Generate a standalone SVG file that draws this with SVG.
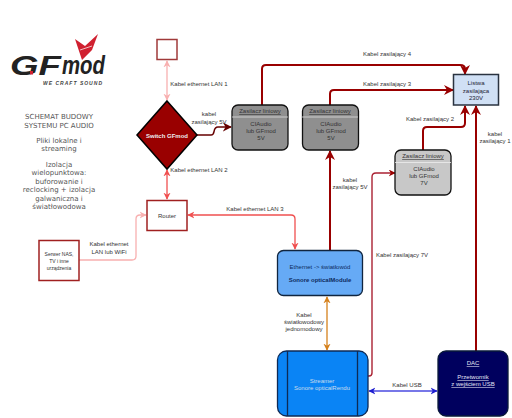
<svg xmlns="http://www.w3.org/2000/svg" width="512" height="418" viewBox="0 0 512 418">
<style>
text{font-family:"Liberation Sans",Arial,sans-serif;font-size:6px;fill:#333;text-anchor:middle}
.m{font-family:"DejaVu Sans",sans-serif;font-size:7px;fill:#555}
.c{fill:none;stroke-linejoin:round}
.pw{stroke:#990000;stroke-width:2}
.lan{stroke:#f05050;stroke-width:1.3}
.lt{stroke:#f8b0b0;stroke-width:1.3}
.u{text-decoration:underline}
.w{fill:#e4e4f4}
</style>
<defs>
<marker id="ap" viewBox="0 0 10 10" refX="9" refY="5" markerWidth="5" markerHeight="5" orient="auto-start-reverse" markerUnits="strokeWidth"><path d="M0 0L10 5L0 10L3 5Z" fill="#990000"/></marker>
<marker id="al" viewBox="0 0 10 10" refX="9" refY="5" markerWidth="5.5" markerHeight="5.5" orient="auto-start-reverse" markerUnits="strokeWidth"><path d="M0 0L10 5L0 10L3 5Z" fill="#f05050"/></marker>
<marker id="at" viewBox="0 0 10 10" refX="9" refY="5" markerWidth="5.5" markerHeight="5.5" orient="auto-start-reverse" markerUnits="strokeWidth"><path d="M0 0L10 5L0 10L3 5Z" fill="#f8b0b0"/></marker>
<marker id="ad" viewBox="0 0 10 10" refX="9" refY="5" markerWidth="6" markerHeight="6" orient="auto-start-reverse" markerUnits="strokeWidth"><path d="M0 0L10 5L0 10L3 5Z" fill="#660000"/></marker>
<marker id="ao" viewBox="0 0 10 10" refX="9" refY="5" markerWidth="5.5" markerHeight="5.5" orient="auto-start-reverse" markerUnits="strokeWidth"><path d="M0 0L10 5L0 10L3 5Z" fill="#d5811d"/></marker>
<marker id="ab" viewBox="0 0 10 10" refX="9" refY="5" markerWidth="5.5" markerHeight="5.5" orient="auto-start-reverse" markerUnits="strokeWidth"><path d="M0 0L10 5L0 10L3 5Z" fill="#1f1fd0"/></marker>
</defs>

<g id="logo">
<polygon points="75,39 85,46 98,34 92,50 82,60 78,48" fill="#d02030"/>
<line x1="80" y1="50" x2="92" y2="46" stroke="#fff" stroke-width="0.700"/>
<text x="10" y="75" style="font-size:27px;font-weight:bold;font-style:italic;text-anchor:start;fill:#222" textLength="51" lengthAdjust="spacingAndGlyphs">GF</text>
<rect x="30" y="71" width="3" height="3.500" fill="#d02030"/>
<text x="62" y="74" style="font-size:25px;font-weight:bold;font-style:italic;text-anchor:start;fill:#222" textLength="43" lengthAdjust="spacingAndGlyphs">mod</text>
<text x="43" y="84.500" style="font-size:5px;font-weight:bold;font-style:italic;text-anchor:start;fill:#444" textLength="59">WE CRAFT SOUND</text>
</g>

<g id="opis">
<text class="m" x="59" y="119">SCHEMAT BUDOWY</text>
<text class="m" x="59" y="128">SYSTEMU PC AUDIO</text>
<text class="m" x="59" y="143">Pliki lokalne i</text>
<text class="m" x="59" y="151">streaming</text>
<text class="m" x="59" y="167">Izolacja</text>
<text class="m" x="59" y="175">wielopunktowa:</text>
<text class="m" x="59" y="184">buforowanie i</text>
<text class="m" x="59" y="192">reclocking + izolacja</text>
<text class="m" x="59" y="201">galwaniczna i</text>
<text class="m" x="59" y="209">światłowodowa</text>
</g>

<g id="connectors">
<path class="c lt" d="M167 61V100" marker-start="url(#at)" marker-end="url(#at)"/>
<path class="c lan" d="M167 170V199" marker-start="url(#al)" marker-end="url(#al)"/>
<path class="c lan" d="M188 215H291Q295 215 295 219V249" marker-start="url(#al)" marker-end="url(#al)"/>
<path class="c lt" d="M79 260H132Q136 260 136 256V219Q136 215 140 215H146" marker-end="url(#at)"/>
<path class="c" d="M197 135H211C216 135 212 127 218 127H231" stroke="#660000" stroke-width="1.500" marker-end="url(#ad)"/>
<path class="c pw" d="M262 105V69Q262 65 266 65H460Q465 65 465 69V74" marker-end="url(#ap)"/>
<path class="c pw" d="M330 105V94Q330 90 334 90H453" marker-end="url(#ap)"/>
<path class="c pw" d="M423 150V131Q423 127 427 127H461Q465 127 465 123V106" marker-end="url(#ap)"/>
<path class="c pw" d="M476 351V106" marker-end="url(#ap)"/>
<path class="c pw" d="M330 250V151" marker-end="url(#ap)"/>
<path class="c" d="M368 376H369Q372 376 372 373V177Q372 173 376 173H395" stroke="#aa2233" stroke-width="1.400" marker-end="url(#ap)"/>
<path class="c" d="M327 297V350" stroke="#d5811d" stroke-width="1.300" marker-start="url(#ao)" marker-end="url(#ao)"/>
<path class="c" d="M369 391H437" stroke="#4a4ae0" stroke-width="1.300" marker-start="url(#ab)" marker-end="url(#ab)"/>
</g>

<g id="labels">
<text x="199" y="86">Kabel ethernet LAN 1</text>
<text x="199" y="172">Kabel ethernet LAN 2</text>
<text x="209" y="116">kabel</text>
<text x="209" y="124">zasilający 5V</text>
<text x="255" y="211">Kabel ethernet LAN 3</text>
<text x="109" y="246">Kabel ethernet</text>
<text x="109" y="254">LAN lub WiFi</text>
<text x="387" y="56">Kabel zasilający 4</text>
<text x="387" y="86">Kabel zasilający 3</text>
<text x="430" y="121">Kabel zasilający 2</text>
<text x="495" y="136">kabel</text>
<text x="495" y="143">zasilający 1</text>
<text x="350" y="182">kabel</text>
<text x="350" y="189">zasilający 5V</text>
<text x="402" y="257">Kabel zasilający 7V</text>
<text x="304" y="317">Kabel</text>
<text x="304" y="324">światłowodowy</text>
<text x="304" y="331">jednomodowy</text>
<text x="407" y="387">Kabel USB</text>
</g>

<g id="lan-gniazdo"><rect x="157" y="39.500" width="20" height="20" fill="#fff" stroke="#a03a3a" stroke-width="1.500"/></g>

<g id="switch"><polygon points="167,101 197,135 167,169 137,135" fill="#990000" stroke="#000" stroke-width="1.500"/><text x="167" y="137.500" style="fill:#eee;font-weight:bold">Switch GFmod</text></g>

<g id="router"><rect x="147" y="200.500" width="40" height="30" fill="#fff" stroke="#a02020" stroke-width="1.500"/><text x="167" y="218">Router</text></g>

<g id="serwer"><rect x="39" y="240.500" width="40" height="40" fill="#fff" stroke="#a02020" stroke-width="1.500"/><text x="59" y="256" style="font-size:5px">Serwer NAS,</text><text x="59" y="263" style="font-size:5px">TV i inne</text><text x="59" y="270" style="font-size:5px">urządzenia</text></g>

<g id="zasilacz1"><rect x="232" y="105" width="56" height="45" rx="6" fill="#8f8f8f" stroke="#111" stroke-width="1.300"/><line x1="232" y1="117" x2="288" y2="117" stroke="#ddd" stroke-width="0.800"/><text class="u" x="260" y="113">Zasilacz liniowy</text><text x="261" y="126">CIAudio</text><text x="261" y="133">lub GFmod</text><text x="261" y="140">5V</text></g>

<g id="zasilacz2"><rect x="302.500" y="105" width="56" height="45" rx="6" fill="#8f8f8f" stroke="#111" stroke-width="1.300"/><line x1="302" y1="117" x2="358" y2="117" stroke="#ddd" stroke-width="0.800"/><text class="u" x="330" y="113">Zasilacz liniowy</text><text x="331" y="126">CIAudio</text><text x="331" y="133">lub GFmod</text><text x="331" y="140">5V</text></g>

<g id="zasilacz3"><rect x="395" y="150" width="56" height="45" rx="6" fill="#c8c8c8" stroke="#111" stroke-width="1.300"/><line x1="395" y1="162.500" x2="451" y2="162.500" stroke="#eee" stroke-width="0.800"/><text class="u" x="423" y="158">Zasilacz liniowy</text><text x="424" y="171">CIAudio</text><text x="424" y="178">lub GFmod</text><text x="424" y="185">7V</text></g>

<g id="listwa"><rect x="453.500" y="74.500" width="45" height="30.500" fill="#d0e0f5" stroke="#2a3340" stroke-width="1.500"/><text x="476" y="85" style="fill:#223">Listwa</text><text x="476" y="92.500" style="fill:#223">zasilająca</text><text x="476" y="99.500" style="fill:#223">230V</text></g>

<g id="ethernet"><rect x="277.500" y="250.500" width="85" height="45" rx="6" fill="#66aaf5" stroke="#10253f" stroke-width="1.300"/><text x="320" y="268.500" style="fill:#0d2a60">Ethernet -&gt; światłowód</text><text x="320" y="281.500" style="fill:#0d2a60;font-weight:bold">Sonore opticalModule</text></g>

<g id="streamer"><rect x="277.500" y="351" width="90.500" height="65" rx="9" fill="#0a84f5" stroke="#0e2a55" stroke-width="1.300"/><line x1="287.500" y1="351" x2="287.500" y2="416" stroke="#0e2a55" stroke-width="1.300"/><line x1="357.500" y1="351" x2="357.500" y2="416" stroke="#0e2a55" stroke-width="1.300"/><text x="322" y="382.500" style="fill:#cde">Streamer</text><text x="322" y="389.500" style="fill:#cde">Sonore opticalRendu</text></g>

<g id="dac"><rect x="438" y="351" width="70" height="65" rx="8" fill="#00005e" stroke="#0a1a3a" stroke-width="1.300"/><text class="u w" x="473" y="365">DAC</text><text class="u w" x="473" y="379">Przetwornik</text><text class="u w" x="473" y="386">z wejściem USB</text></g>
</svg>
